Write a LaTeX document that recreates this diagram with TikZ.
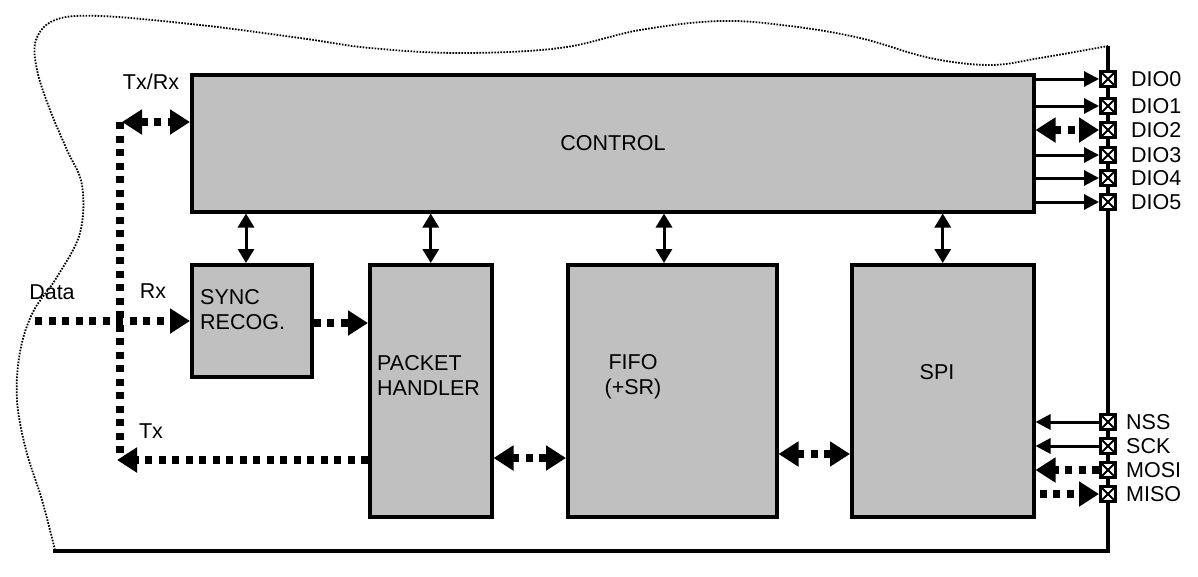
\documentclass[tikz,border=0pt]{standalone}
\usepackage{fontspec}
\setmainfont{Liberation Sans}
\usetikzlibrary{arrows.meta,calc}
\begin{document}
\begin{tikzpicture}[x=1pt,y=-1pt,
  blk/.style={draw,line width=3.5pt,fill={rgb,255:red,192;green,192;blue,192},anchor=north west,inner sep=0pt},
  txt/.style={inner sep=0pt,font=\fontsize{21.5}{25}\selectfont,align=left},
  pin/.style={draw,line width=3pt,fill=white,minimum size=15pt,inner sep=0pt,
    path picture={\draw[line width=2pt] (path picture bounding box.north west) -- (path picture bounding box.south east) (path picture bounding box.north east) -- (path picture bounding box.south west);}},
  sarrow/.style={line width=3pt,-{Triangle[length=15pt,width=15pt]}},
  sbi/.style={line width=3pt,{Triangle[length=14pt,width=16pt]}-{Triangle[length=14pt,width=16pt]}},
  dotl/.style={line width=7.5pt,dash pattern=on 7pt off 6.5pt},
  darrow/.style={dotl,-{Triangle[length=20pt,width=24pt]}},
  dbi/.style={dotl,{Triangle[length=20pt,width=24pt]}-{Triangle[length=20pt,width=24pt]}},
  boundary/.style={line width=1.8pt,dash pattern=on 1.6pt off 1.4pt}
]
\useasboundingbox (0,0) rectangle (1198,576);
% boundary
\draw[boundary] plot[smooth,tension=0.6] coordinates{(1108,46) (1040,58) (990,65) (930,58) (860,38) (790,26) (720,21) (640,30) (560,48) (460,53) (370,48) (300,38) (200,25) (100,16) (55,20) (36,40) (37,70) (50,110) (67,150) (82,185) (80,233) (57,277) (33,312) (20,352) (17,400) (26,450) (42,500) (55,550)};
\draw[line width=3.5pt] (1108,46) -- (1108,551) -- (53,551);
% blocks
\node[blk,minimum width=842pt,minimum height=137pt] (ctrl) at (190,73) {};
\node[blk,minimum width=120pt,minimum height=112pt] (sync) at (190,263) {};
\node[blk,minimum width=122pt,minimum height=252pt] (pkt) at (368,263) {};
\node[blk,minimum width=209pt,minimum height=252pt] (fifo) at (566,263) {};
\node[blk,minimum width=182pt,minimum height=252pt] (spi) at (850,263) {};
\node[txt] (tctrl) at (613,143) {CONTROL};
\node[txt,anchor=west] (tsync) at (200,310) {SYNC\\RECOG.};
\node[txt,anchor=west] (tpkt) at (377,375) {PACKET\\HANDLER};
\node[txt,align=center] (tfifo) at (633,377) {FIFO\\(+SR)};
\node[txt] (tspi) at (937,372) {SPI};
% control links
\draw[sbi] (ctrl.south -| 246,0) -- (sync.north -| 246,0);
\draw[sbi] (ctrl.south -| pkt.north) -- (pkt.north);
\draw[sbi] (ctrl.south -| 664,0) -- (fifo.north -| 664,0);
\draw[sbi] (ctrl.south -| spi.north) -- (spi.north);
% pins
\foreach \n/\y/\t in {p0/79/DIO0,p1/106/DIO1,p2/130/DIO2,p3/155/DIO3,p4/178/DIO4,p5/202/DIO5}{
  \node[pin] (\n) at (1108,\y) {};
  \node[txt,anchor=west] (l\n) at ($(\n.east)+(14,0)$) {\t};
}
\foreach \n/\y/\t in {pn/422/NSS,ps/446/SCK,pmo/470/MOSI,pmi/494/MISO}{
  \node[pin] (\n) at (1108,\y) {};
  \node[txt,anchor=west] (l\n) at ($(\n.east)+(9,0)$) {\t};
}
\draw[sarrow] (ctrl.east |- p0) -- (p0.west);
\draw[sarrow] (ctrl.east |- p1) -- (p1.west);
\draw[dbi] (ctrl.east |- p2) -- (p2.west);
\draw[sarrow] (ctrl.east |- p3) -- (p3.west);
\draw[sarrow] (ctrl.east |- p4) -- (p4.west);
\draw[sarrow] (ctrl.east |- p5) -- (p5.west);
\draw[sarrow] (pn.west) -- (spi.east |- pn);
\draw[sarrow] (ps.west) -- (spi.east |- ps);
\draw[darrow] (pmo.west) -- (spi.east |- pmo);
\draw[darrow] ($(spi.east |- pmi)+(4,0)$) -- (pmi.west);
% data path
\coordinate (txrx) at (120,122);
\coordinate (txend) at (120,456);
\coordinate (din) at (35,321);
\draw[dotl] (txrx) -- (txend);
\draw[dbi] (122,122) -- (ctrl.west |- txrx);
\draw[darrow] (din) -- (sync.west |- din);
\draw[darrow] (sync.east |- 0,323) -- (pkt.west |- 0,323);
\draw[darrow] (pkt.west |- 0,460) -- (117,460);
\draw[dbi] (pkt.east |- 0,458) -- (fifo.west |- 0,458);
\draw[dbi] (fifo.east |- 0,454) -- (spi.west |- 0,454);
% labels
\node[txt] (ltxrx) at (151,82) {Tx/Rx};
\node[txt] (ldata) at (52,292) {Data};
\node[txt] (lrx) at (153,291) {Rx};
\node[txt] (ltx) at (151,431) {Tx};
\end{tikzpicture}
\end{document}
